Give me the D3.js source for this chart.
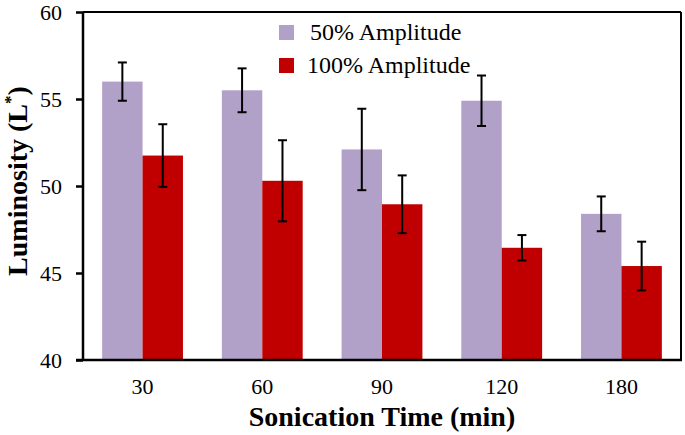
<!DOCTYPE html>
<html>
<head>
<meta charset="utf-8">
<script src="https://cdn.jsdelivr.net/npm/d3@7/dist/d3.min.js"></script>
<style>
  html, body { margin: 0; padding: 0; background: #fff; }
  svg { display: block; }
  svg text { font-family: "Liberation Serif", "Times New Roman", Times, serif; fill: #000; }
</style>
</head>
<body>
<svg id="chart" width="685" height="435"></svg>
<script>
const categories = ["30", "60", "90", "120", "180"];
const seriesNames = ["50% Amplitude", "100% Amplitude"];
const amp50 = [56.0, 55.5, 52.1, 54.9, 48.4];
const err50 = [1.1, 1.26, 2.34, 1.45, 1.0];
const amp100 = [51.75, 50.3, 48.95, 46.45, 45.4];
const err100 = [1.8, 2.33, 1.66, 0.73, 1.4];
const yTicks = [40, 45, 50, 55, 60];
const colors = ["#B1A0C7", "#C00000"];

const svg = d3.select("#chart");
const L = 83, R = 681, T = 12, B = 360;

const x = d3.scaleBand().domain(categories).range([L, R]).paddingInner(0.325).paddingOuter(0.16);
const xs = d3.scaleBand().domain(seriesNames).range([0, x.bandwidth()]);
const y = d3.scaleLinear().domain([40, 60]).range([B, T]);

const data = categories.map((c, i) => ({
  cat: c,
  vals: [
    { s: seriesNames[0], v: amp50[i], e: err50[i], col: colors[0] },
    { s: seriesNames[1], v: amp100[i], e: err100[i], col: colors[1] }
  ]
}));

// bars
const groups = svg.append("g").selectAll("g.grp").data(data).join("g")
  .attr("transform", d => `translate(${x(d.cat)},0)`);
groups.selectAll("rect").data(d => d.vals).join("rect")
  .attr("x", d => xs(d.s))
  .attr("y", d => y(d.v))
  .attr("width", xs.bandwidth())
  .attr("height", d => y(40) - y(d.v))
  .attr("fill", d => d.col);

// error bars
const eb = groups.selectAll("g.eb").data(d => d.vals).join("g")
  .attr("stroke", "#000").attr("stroke-width", 2);
const cx = d => xs(d.s) + xs.bandwidth() / 2;
eb.append("line")
  .attr("x1", cx).attr("x2", cx)
  .attr("y1", d => y(d.v + d.e))
  .attr("y2", d => y(d.v - d.e));
eb.append("line")
  .attr("x1", d => cx(d) - 4.5).attr("x2", d => cx(d) + 4.5)
  .attr("y1", d => y(d.v + d.e)).attr("y2", d => y(d.v + d.e));
eb.append("line")
  .attr("x1", d => cx(d) - 4.5).attr("x2", d => cx(d) + 4.5)
  .attr("y1", d => y(d.v - d.e)).attr("y2", d => y(d.v - d.e));

// frame top/right
svg.append("line").attr("x1", L).attr("x2", R).attr("y1", T).attr("y2", T)
  .attr("stroke", "#000").attr("stroke-width", 2);
svg.append("line").attr("x1", R).attr("x2", R).attr("y1", T).attr("y2", B)
  .attr("stroke", "#000").attr("stroke-width", 2);

// y axis
const yAxis = d3.axisLeft(y).tickValues(yTicks).tickSize(7).tickPadding(14).tickFormat(d3.format("d"));
const ya = svg.append("g").attr("transform", `translate(${L},0)`).call(yAxis);
ya.attr("font-family", null).attr("font-size", null);
ya.select(".domain").attr("stroke", "#000").attr("stroke-width", 2.5).attr("d", `M0,${T}V${B}`);
ya.selectAll(".tick line").attr("stroke", "#000").attr("stroke-width", 2.5).attr("x1", -7).attr("x2", 0);
ya.selectAll(".tick text").attr("x", -21).attr("font-size", 22).attr("fill", "#000");

// x axis (labels only, no tick marks)
const xAxis = d3.axisBottom(x).tickSize(0).tickPadding(18);
const xa = svg.append("g").attr("transform", `translate(0,${B})`).call(xAxis);
xa.attr("font-family", null).attr("font-size", null);
xa.select(".domain").remove();
xa.selectAll(".tick text").attr("font-size", 22).attr("fill", "#000");
svg.append("line").attr("x1", L - 7).attr("x2", R + 1).attr("y1", B).attr("y2", B)
  .attr("stroke", "#000").attr("stroke-width", 2.5);

// axis titles
svg.append("text").attr("x", (L + R) / 2).attr("y", 426)
  .attr("text-anchor", "middle").attr("font-size", 28)
  .attr("font-weight", "bold")
  .text("Sonication Time (min)");

const yt = svg.append("text")
  .attr("transform", "translate(27,181) rotate(-90)")
  .attr("text-anchor", "middle").attr("font-size", 28)
  .attr("font-weight", "bold");
yt.append("tspan").text("Luminosity (L");
yt.append("tspan").attr("dy", -11).attr("font-size", 17).text("*");
yt.append("tspan").attr("dy", 11).text(")");

// legend
const leg = svg.append("g").selectAll("g").data(seriesNames).join("g")
  .attr("transform", (d, i) => `translate(279,${25 + i * 33})`);
leg.append("rect").attr("width", 15).attr("height", 15).attr("fill", (d, i) => colors[i]);
leg.append("text").attr("x", (d, i) => i === 0 ? 31 : 28).attr("y", 15)
  .attr("font-size", 24)
  .text(d => d);
</script>
</body>
</html>
